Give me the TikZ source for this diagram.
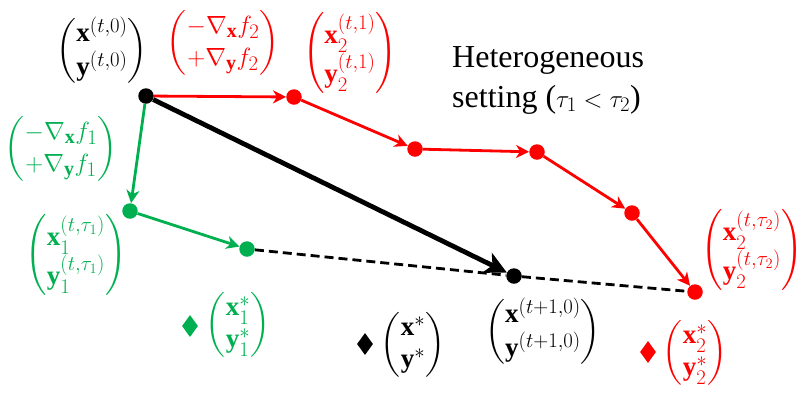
\documentclass[tikz,border=0pt]{standalone}
\usepackage{amsmath, amssymb}
\usepackage{fontspec}
\setmainfont{Liberation Serif}
\usetikzlibrary{arrows.meta, shapes.geometric}
\definecolor{locA}{RGB}{0, 176, 80}
\definecolor{locB}{RGB}{255, 0, 0}
\DeclareMathSizes{27}{27}{20}{15}

\begin{document}
\begin{tikzpicture}[x=1pt, y=-1pt,
    dot/.style={circle, inner sep=0pt, minimum size=15.5pt},
    star/.style={diamond, inner sep=0pt, minimum width=16pt, minimum height=22pt},
    vec/.style={font=\fontsize{27}{32}\selectfont, inner sep=0pt},
    step1/.style={line width=2.8pt, -{Stealth[length=13pt, width=13pt, inset=4pt]}},
    bigstep/.style={line width=4.8pt, -{Stealth[length=22pt, width=22pt, inset=6pt]}}]
  \useasboundingbox (0,0) rectangle (801,392);

  % dashed segment through the averaged point
  \node[dot, fill=black] (s0) at (146,96) {};
  \node[dot, fill=black] (e) at (514,276) {};
  \node[dot, fill=locB] (r1) at (294,97) {};
  \node[dot, fill=locB] (r2) at (415,149) {};
  \node[dot, fill=locB] (r3) at (537,152) {};
  \node[dot, fill=locB] (r4) at (632,213) {};
  \node[dot, fill=locB] (r5) at (695,292) {};
  \node[dot, fill=locA] (g1) at (130,211) {};
  \node[dot, fill=locA] (g2) at (247,249) {};

  \draw[line width=2.8pt, dash pattern=on 9pt off 5pt] (g2) -- (e) -- (r5);

  % local steps
  \draw[step1, locB] (s0) -- (r1);
  \draw[step1, locB] (r1) -- (r2);
  \draw[step1, locB] (r2) -- (r3);
  \draw[step1, locB] (r3) -- (r4);
  \draw[step1, locB] (r4) -- (r5);
  \draw[step1, locA] (s0) -- (g1);
  \draw[step1, locA] (g1) -- (g2);

  % global update
  \draw[bigstep] (s0) -- (e);

  % optima
  \node[star, fill=locA] (o1) at (190,326) {};
  \node[star, fill=black] (o) at (365,344) {};
  \node[star, fill=locB] (o2) at (648,352) {};

  \node[vec] (ls0) at (102,51) {$\begin{pmatrix}\mathbf{x}^{(t,0)}\\ \mathbf{y}^{(t,0)}\end{pmatrix}$};
  \node[vec, locB] (lgB) at (223,43) {$\begin{pmatrix}-\nabla_{\mathbf{x}} f_2\\ +\nabla_{\mathbf{y}} f_2\end{pmatrix}$};
  \node[vec, locB] (lr1) at (350,53) {$\begin{pmatrix}\mathbf{x}_2^{(t,1)}\\ \mathbf{y}_2^{(t,1)}\end{pmatrix}$};
  \node[vec, locA] (lgA) at (61,149) {$\begin{pmatrix}-\nabla_{\mathbf{x}} f_1\\ +\nabla_{\mathbf{y}} f_1\end{pmatrix}$};
  \node[vec, locA] (lg1) at (76,255) {$\begin{pmatrix}\mathbf{x}_1^{(t,\tau_1)}\\ \mathbf{y}_1^{(t,\tau_1)}\end{pmatrix}$};
  \node[vec, locA] (lo1) at (238,325) {$\begin{pmatrix}\mathbf{x}_1^{*}\\ \mathbf{y}_1^{*}\end{pmatrix}$};
  \node[vec] (lo) at (413,345) {$\begin{pmatrix}\mathbf{x}^{*}\\ \mathbf{y}^{*}\end{pmatrix}$};
  \node[vec] (le) at (543,332) {$\begin{pmatrix}\mathbf{x}^{(t+1,0)}\\ \mathbf{y}^{(t+1,0)}\end{pmatrix}$};
  \node[vec, locB] (lo2) at (695,353) {$\begin{pmatrix}\mathbf{x}_2^{*}\\ \mathbf{y}_2^{*}\end{pmatrix}$};
  \node[vec, locB] (lr5) at (752,250) {$\begin{pmatrix}\mathbf{x}_2^{(t,\tau_2)}\\ \mathbf{y}_2^{(t,\tau_2)}\end{pmatrix}$};

  \node[font=\fontsize{32}{40}\selectfont, align=left, anchor=north west, inner sep=0pt] (title) at (452,46)
    {Heterogeneous\\setting ($\tau_1 < \tau_2$)};
\end{tikzpicture}
\end{document}
